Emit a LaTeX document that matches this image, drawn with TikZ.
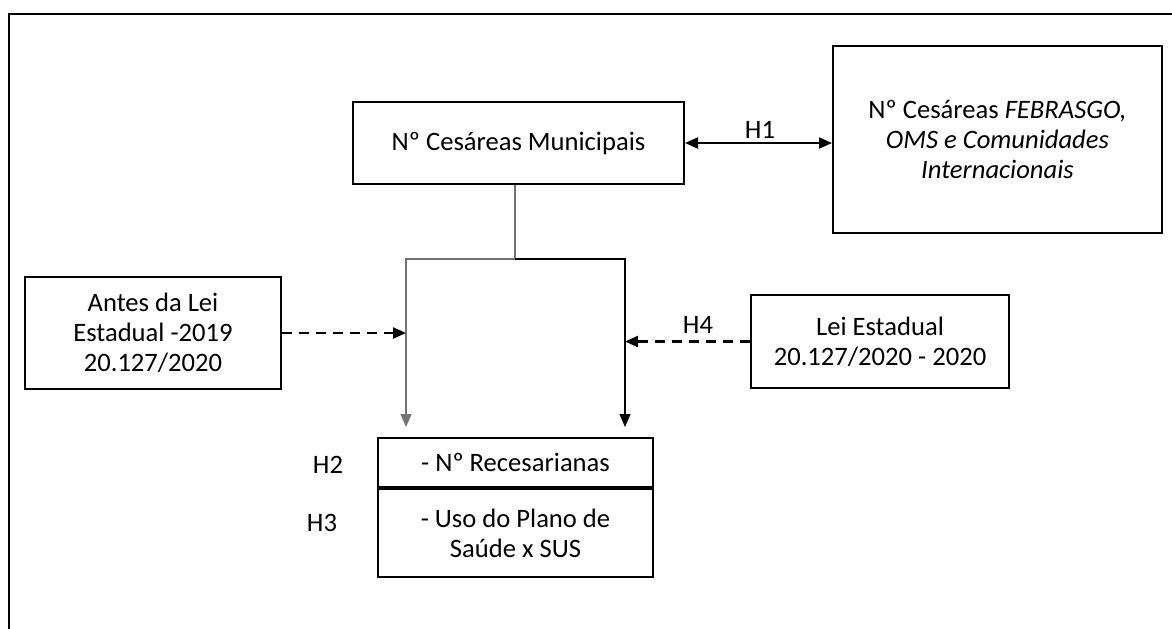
\documentclass[tikz,border=0pt]{standalone}
\usepackage{fontspec}
\setmainfont{Carlito}
\usetikzlibrary{arrows.meta}

\begin{document}
\begin{tikzpicture}[x=0.5pt,y=-0.5pt,
  box/.style={draw,line width=1pt,align=center,inner sep=2pt,font=\fontsize{13.3}{15}\selectfont},
  lbl/.style={font=\fontsize{13.3}{15}\selectfont},
  tip/.style={-{Triangle[length=6.5pt,width=5.5pt]}},
  branch/.style={line width=0.6pt},
  hyp/.style={line width=1.1pt,dash pattern=on 5pt off 3.5pt}]
\useasboundingbox (0,0) rectangle (1172,628);
% outer frame
\draw[line width=1.4pt] (9,660) -- (9,14) -- (1200,14);
% boxes
\node[box,minimum width=165.5pt,minimum height=41pt] (muni) at (518.5,143) {Nº Cesáreas Municipais};
\node[box,minimum width=164.5pt,minimum height=93.5pt] (intl) at (997.5,139.5) {Nº Cesáreas \textit{FEBRASGO,}\\\textit{OMS e Comunidades}\\\textit{Internacionais}};
\node[box,minimum width=128pt,minimum height=56pt] (antes) at (153,333) {Antes da Lei\\Estadual -2019\\20.127/2020};
\node[box,minimum width=129pt,minimum height=46.5pt] (lei) at (880,341.5) {Lei Estadual\\20.127/2020 - 2020};
\node[box,minimum width=137.5pt,minimum height=24.5pt] (rec) at (515.5,462.5) {- Nº Recesarianas};
\node[box,minimum width=137.5pt,minimum height=44pt,anchor=north] (plano) at (rec.south) {- Uso do Plano de\\Saúde x SUS};
% hypothesis labels
\node[lbl] (h1) at (760,130) {H1};
\node[lbl] (h2) at (328,465) {H2};
\node[lbl] (h3) at (322,523) {H3};
\node[lbl] (h4) at (698,325) {H4};
% branch points
\coordinate (fork) at (515,259);
\coordinate (forkL) at (406,259);
\coordinate (forkR) at (625,259);
\coordinate (endL) at (406,427);
\coordinate (endR) at (625,427);
% connectors
\draw[line width=1pt,{Triangle[length=6.5pt,width=5.5pt]}-{Triangle[length=6.5pt,width=5.5pt]}] (muni.east) -- (muni.east -| intl.west);
\draw[branch,black!55] (fork |- muni.south) -- (fork);
\draw[branch,black!55,tip] (fork) -- (forkL) -- (endL);
\draw[branch,tip] (fork) -- (forkR) -- (endR);
\draw[hyp,tip] (antes.east) -- (antes.east -| endL);
\draw[hyp,tip] (lei.west) -- (lei.west -| endR);
\end{tikzpicture}
\end{document}
